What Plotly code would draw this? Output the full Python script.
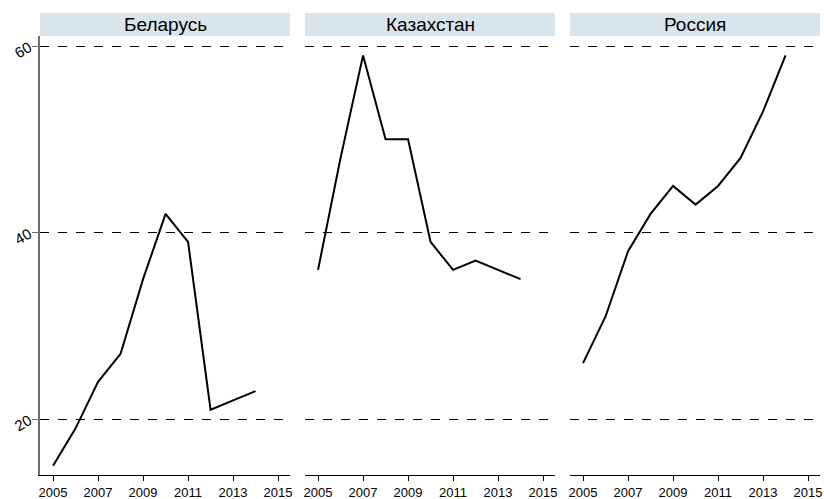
import plotly.graph_objects as go

years = [2005, 2006, 2007, 2008, 2009, 2010, 2011, 2012, 2013, 2014]
countries = ["Беларусь", "Казахстан", "Россия"]
belarus = [15, 19, 24, 27, 35, 42, 39, 21, 22, 23]
kazakhstan = [36, 48, 59, 50, 50, 39, 36, 37, 36, 35]
russia = [26, 31, 38, 42, 45, 43, 45, 48, 53, 59]
series = [belarus, kazakhstan, russia]
xticks = [2005, 2007, 2009, 2011, 2013, 2015]
yticks = [20, 40, 60]

W, H = 824, 499
ml, mr, mt, mb = 40, 4, 36, 24
pw = W - ml - mr
panels_px = [(0, 250), (265, 515), (530, 780)]

fig = go.Figure()
FAM = "Liberation Sans, Arial, Helvetica, sans-serif"
xfont = dict(family=FAM, size=13, color="black")
yfont = dict(family=FAM, size=15, color="black")

for i, (name, vals) in enumerate(zip(countries, series)):
    xa = "x" if i == 0 else f"x{i+1}"
    ya = "y" if i == 0 else f"y{i+1}"
    fig.add_trace(go.Scatter(x=years, y=vals, mode="lines",
                             line=dict(color="black", width=2),
                             xaxis=xa, yaxis=ya, showlegend=False,
                             hoverinfo="skip"))
    d0, d1 = panels_px[i]
    xkey = "xaxis" if i == 0 else f"xaxis{i+1}"
    ykey = "yaxis" if i == 0 else f"yaxis{i+1}"
    fig.layout[xkey] = dict(domain=[d0 / pw, d1 / pw], range=[2004.42, 2015.53],
                            tickvals=xticks, ticks="outside", ticklen=5,
                            tickcolor="black", showline=True, linecolor="black",
                            linewidth=1, showgrid=False, zeroline=False,
                            tickfont=xfont, anchor=ya, fixedrange=True)
    fig.layout[ykey] = dict(domain=[0, 1], range=[14.0, 61.08], tickvals=yticks,
                            showgrid=True, gridcolor="black", gridwidth=1,
                            griddash="dash", zeroline=False, anchor=xa,
                            showline=(i == 0), linecolor="#6e6e6e", linewidth=1.5,
                            ticks="outside" if i == 0 else "", ticklen=6,
                            tickcolor="#6e6e6e", showticklabels=(i == 0),
                            tickangle=-30, tickfont=yfont, fixedrange=True)
    if i > 0:
        fig.layout[ykey]["matches"] = "y"
    strip_h = 23 / (H - mt - mb)
    fig.add_shape(type="rect", xref=f"{xa} domain", yref="paper",
                  x0=0, x1=1, y0=1.0, y1=1.0 + strip_h,
                  fillcolor="#d9e5ec", line=dict(width=0), layer="below")
    fig.add_annotation(text=name, xref=f"{xa} domain", yref="paper",
                       x=0.5, y=1.0 + strip_h / 2, showarrow=False,
                       xanchor="center", yanchor="middle",
                       font=dict(family=FAM, size=19, color="black"))

fig.update_layout(template="none", width=W, height=H,
                  margin=dict(l=ml, r=mr, t=mt, b=mb),
                  plot_bgcolor="white", paper_bgcolor="white",
                  font=dict(family=FAM, color="black"))
fig.write_html("out.html", config={"displayModeBar": False},
               post_script="document.body.style.margin='0';document.body.style.overflow='hidden';")
